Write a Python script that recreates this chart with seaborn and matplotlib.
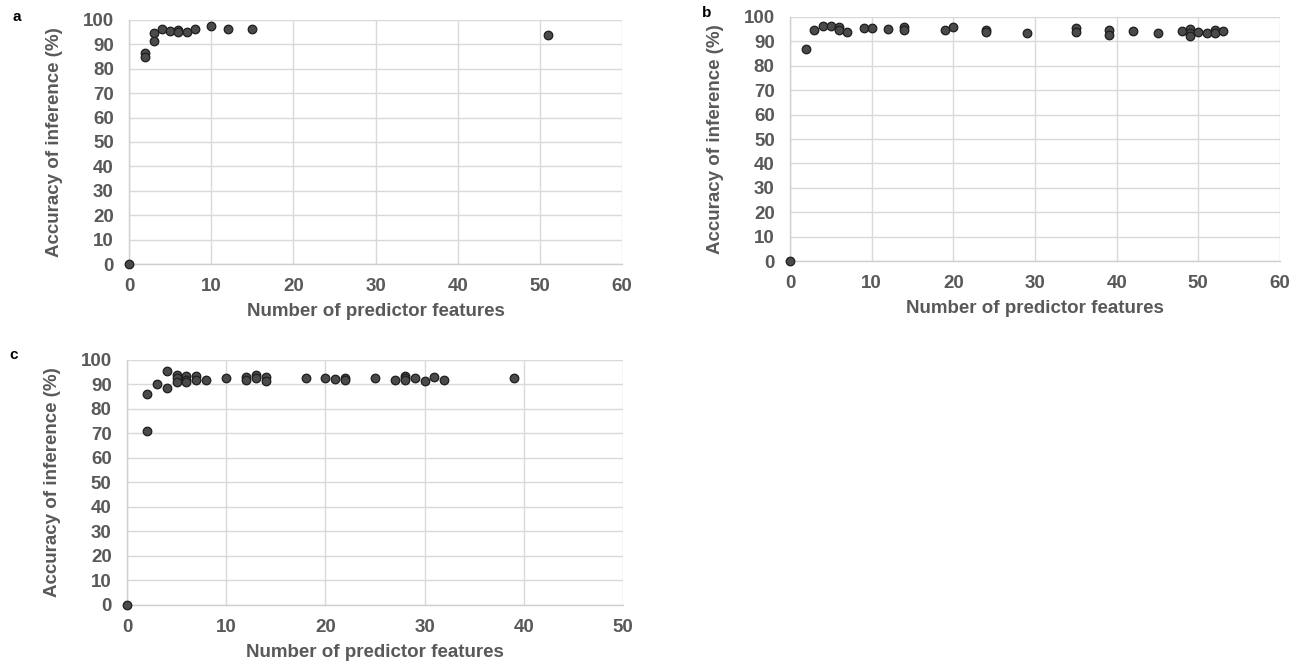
"""Accuracy of inference vs number of predictor features (panels a, b, c)."""

import numpy as np
import pandas as pd
import matplotlib
matplotlib.use("Agg")
import matplotlib.pyplot as plt
import seaborn as sns

# Panel a
a_features = [0, 2, 2, 3, 3, 4, 5, 6, 6, 7, 8, 10, 12, 15, 51]
a_accuracy = [0, 86.5, 85, 94.5, 91.5, 96.5, 95.5, 96, 95, 95, 96.5, 97.5, 96.5, 96.5, 94]

# Panel b
b_features = [0, 2, 3, 4, 5, 6, 6, 7, 9, 10, 12, 14, 14, 19, 20, 24, 24,
              29, 35, 35, 39, 39, 42, 45, 48, 49, 49, 49, 50, 51, 52, 52, 53]
b_accuracy = [0, 87, 94.5, 96.2, 96.2, 96, 94.5, 94, 95.5, 95.5, 95, 95.8, 94.5,
              94.5, 95.8, 94.5, 94, 93.5, 95.5, 93.8, 94.8, 92.8, 94.1, 93.5,
              94.1, 95, 93.5, 92.4, 93.7, 93.3, 94.8, 93.5, 94.1]

# Panel c
c_features = [0, 2, 2, 3, 4, 4, 5, 5, 5, 6, 6, 6, 7, 7, 8, 10, 12, 12, 13, 13,
              14, 14, 18, 20, 21, 22, 22, 25, 27, 28, 28, 28, 29, 30, 31, 32, 39]
c_accuracy = [0, 86, 71, 90, 95.5, 88.4, 93.9, 92.5, 91.1, 93.5, 92, 91, 93.5,
              92, 91.8, 92.8, 93, 92, 93.9, 92.8, 93, 91.3, 92.8, 92.8, 92.2,
              92.8, 91.7, 92.8, 91.8, 93.6, 92.8, 91.7, 92.5, 91.4, 93, 91.8, 92.8]

sns.set_style("white")
plt.rcParams['font.family'] = ['Liberation Sans', 'DejaVu Sans']

TEXT_GRAY = '#595959'
GRID_GRAY = '#d9d9d9'


def draw_panel(ax, features, accuracy, xmax, letter, letter_xy):
    df = pd.DataFrame({'features': features, 'accuracy': accuracy})
    sns.scatterplot(data=df, x='features', y='accuracy', ax=ax, s=38,
                    color='#4a4a4a', edgecolor='#1e1e1e', linewidth=0.9,
                    zorder=3, clip_on=False)
    ax.set_xlim(0, xmax)
    ax.set_ylim(0, 100)
    ax.set_xticks(np.arange(0, xmax + 1, 10))
    ax.set_yticks(np.arange(0, 101, 10))
    ax.grid(True, color=GRID_GRAY, linewidth=1.0)
    ax.set_axisbelow(True)
    for side in ['top', 'right']:
        ax.spines[side].set_visible(False)
    for side in ['left', 'bottom']:
        ax.spines[side].set_color('#cfcfcf')
        ax.spines[side].set_linewidth(1.0)
    ax.tick_params(axis='x', length=0, labelsize=13.5, colors=TEXT_GRAY, pad=10)
    ax.tick_params(axis='y', length=0, labelsize=13.5, colors=TEXT_GRAY, pad=11)
    for lab in ax.get_xticklabels() + ax.get_yticklabels():
        lab.set_fontweight('bold')
    ax.set_xlabel('Number of predictor features', fontsize=13.5, fontweight='bold',
                  color=TEXT_GRAY, labelpad=6)
    ax.set_ylabel('Accuracy of inference (%)', fontsize=13.5, fontweight='bold',
                  color=TEXT_GRAY, labelpad=14)
    ax.figure.text(letter_xy[0], letter_xy[1], letter, fontsize=11,
                   fontweight='bold', color='black', ha='center', va='center')


fig = plt.figure(figsize=(13.06, 6.64), dpi=100)
ax_a = fig.add_axes([0.0988, 0.6024, 0.3775, 0.3675])
ax_b = fig.add_axes([0.6049, 0.6069, 0.3752, 0.3675])
ax_c = fig.add_axes([0.0972, 0.0889, 0.3798, 0.3690])

draw_panel(ax_a, a_features, a_accuracy, 60, 'a', (17 / 1306, 1 - 17 / 664))
draw_panel(ax_b, b_features, b_accuracy, 60, 'b', (707 / 1306, 1 - 13 / 664))
draw_panel(ax_c, c_features, c_accuracy, 50, 'c', (14 / 1306, 1 - 355 / 664))

fig.savefig('out.png', dpi=100)
